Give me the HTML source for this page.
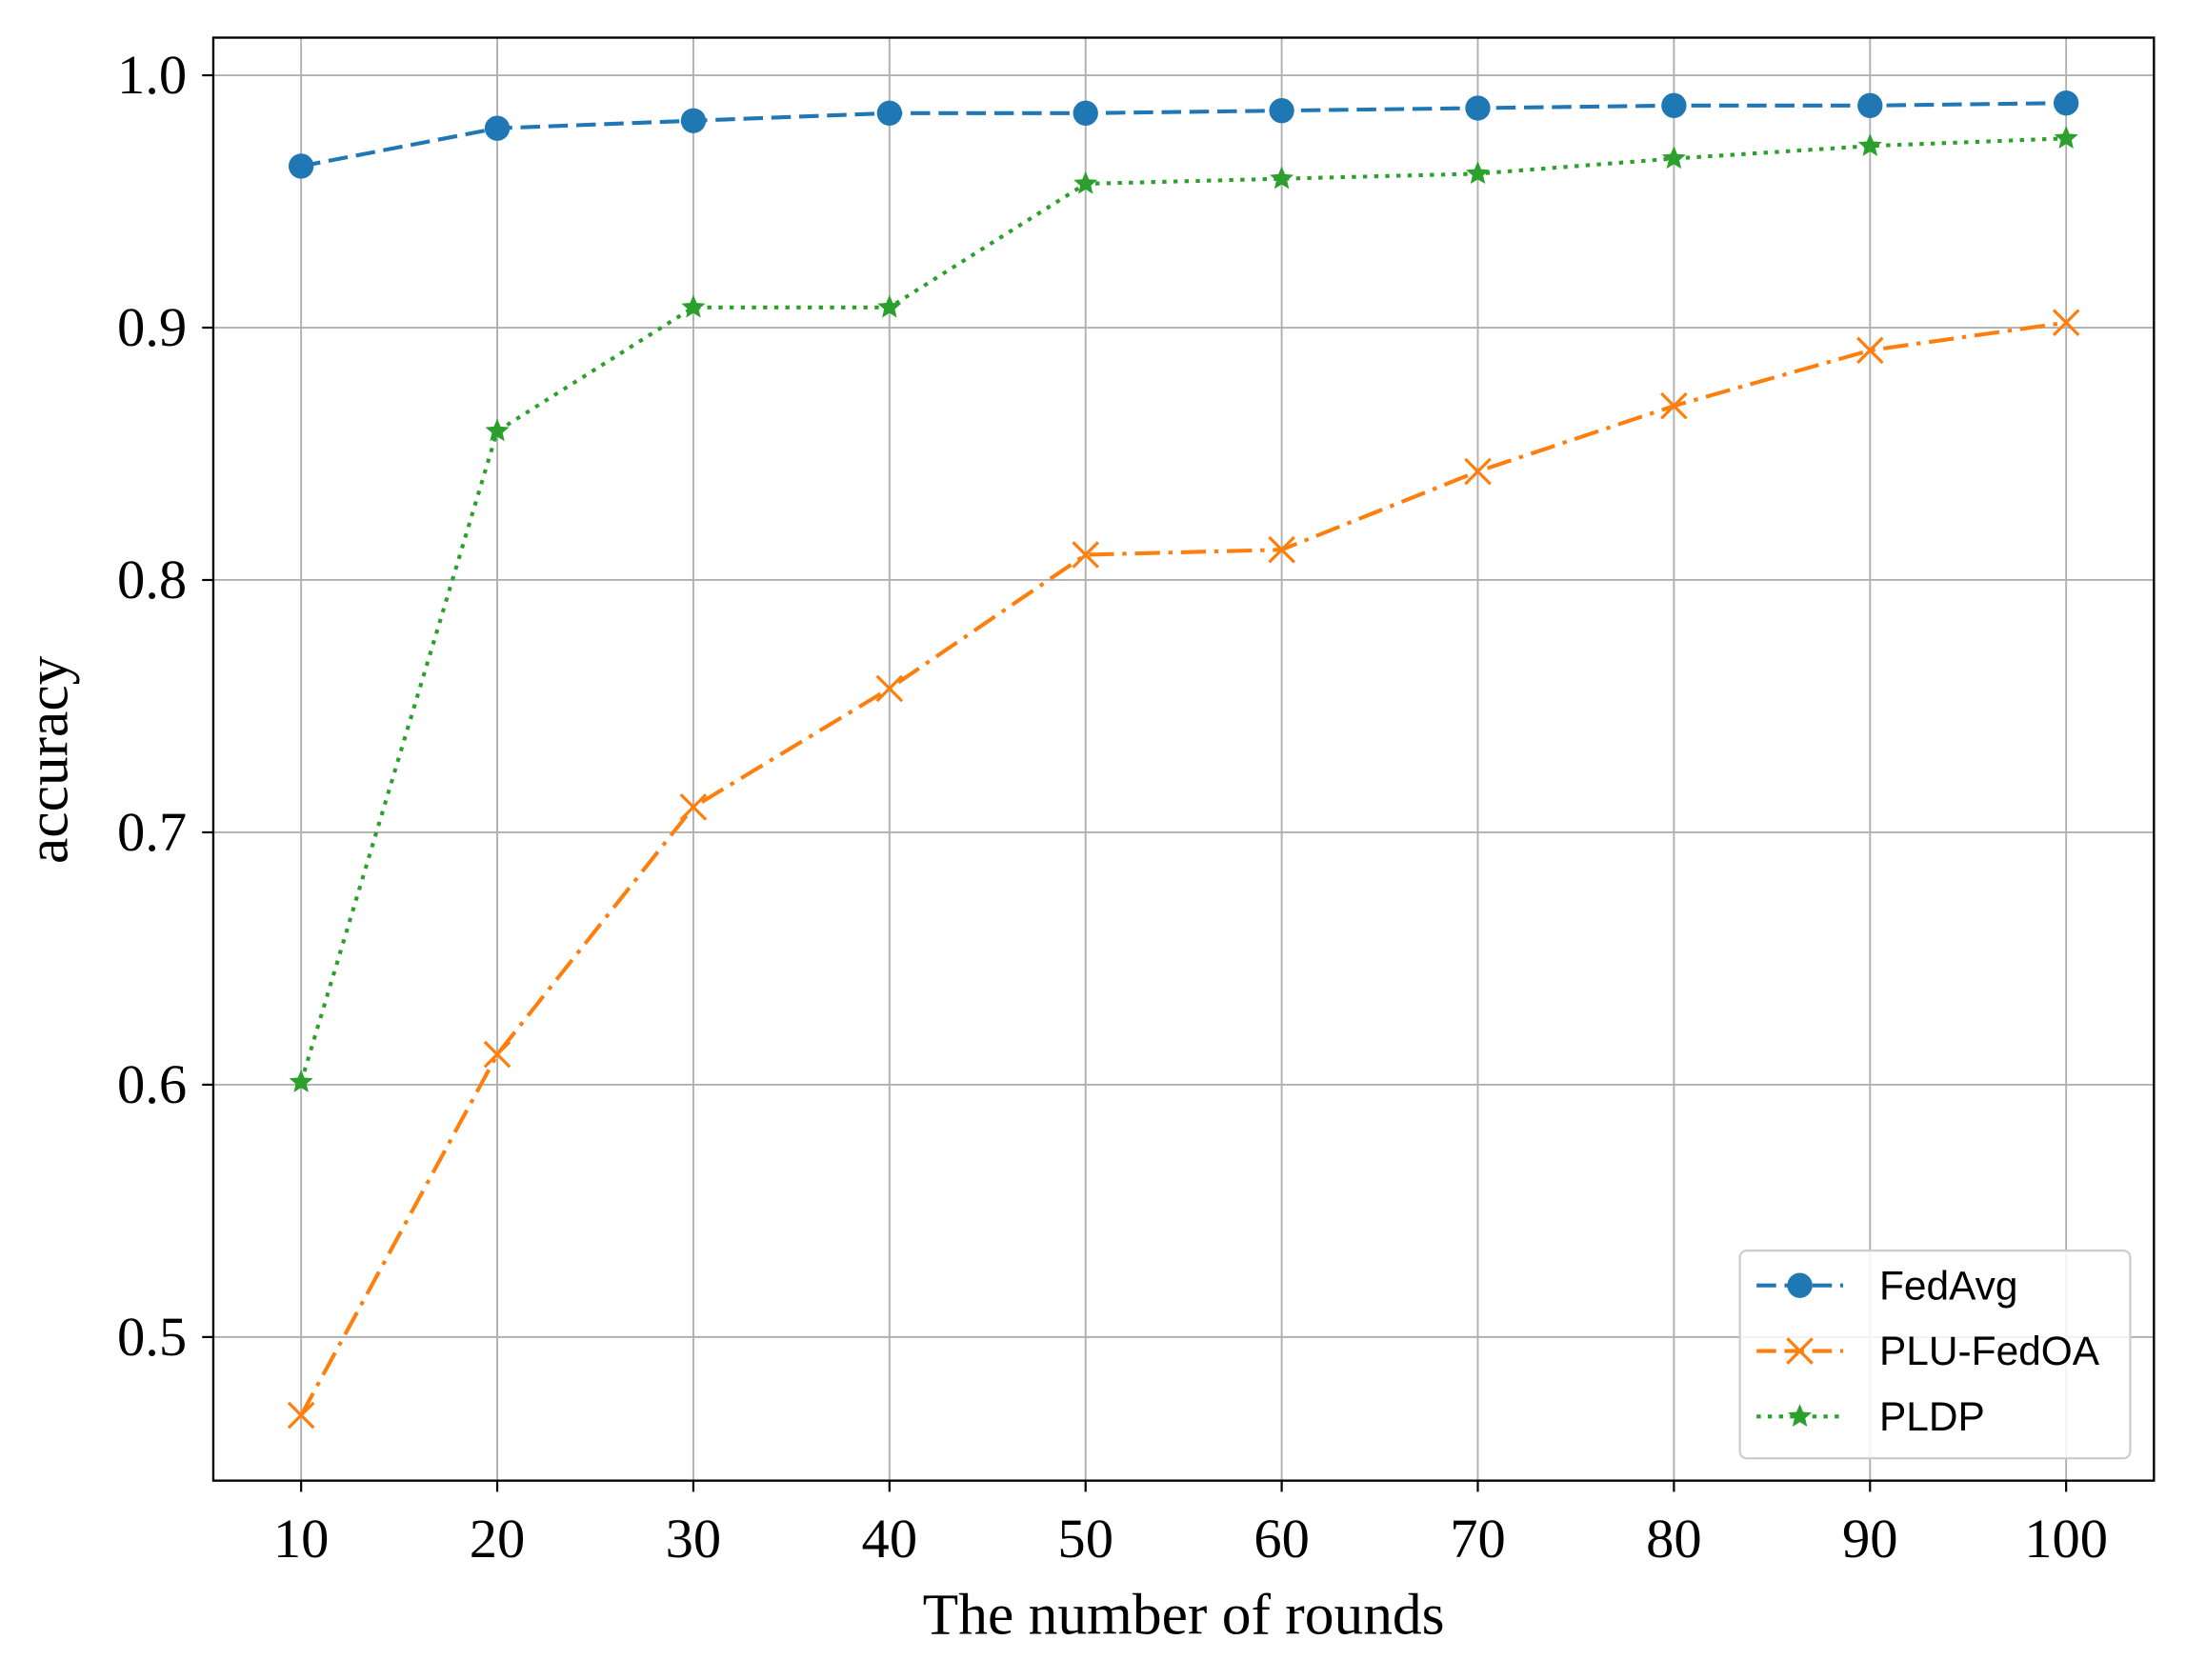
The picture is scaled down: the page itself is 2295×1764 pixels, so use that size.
<!DOCTYPE html>
<html><head><meta charset="utf-8"><style>
html,body{margin:0;padding:0;background:#fff;}
svg{display:block;}
</style></head><body>
<svg id="c" width="2295" height="1764" viewBox="0 0 1568 1205" preserveAspectRatio="none" xmlns="http://www.w3.org/2000/svg">
<rect width="1568" height="1205" fill="#fff"/>
<g id="grid"></g>
<g id="series"></g>
<rect x="153" y="27" width="1392" height="1035" fill="none" stroke="#000" stroke-width="1.6"/>
<g id="ticks" font-family="Liberation Serif, serif" font-size="40" fill="#000"></g>
<text x="849" y="1172" text-anchor="middle" font-family="Liberation Serif, serif" font-size="42">The number of rounds</text>
<text transform="translate(48,545) rotate(-90)" text-anchor="middle" font-family="Liberation Serif, serif" font-size="42">accuracy</text>
<g id="legend" font-family="Liberation Sans, sans-serif" font-size="29"></g>
</svg>
<script>
const ns="http://www.w3.org/2000/svg";
function el(p,t,a,txt){const e=document.createElementNS(ns,t);for(const k in a)e.setAttribute(k,a[k]);if(txt!==undefined)e.textContent=txt;document.getElementById(p).appendChild(e);return e;}
const X=r=>216+(r-10)/10*140.67, Y=v=>54+(1-v)*1810;
for(let r=10;r<=100;r+=10){el('grid','line',{x1:X(r),x2:X(r),y1:27,y2:1062,stroke:'#b0b0b0','stroke-width':1.3});
el('grid','line',{x1:X(r),x2:X(r),y1:1062,y2:1070,stroke:'#000','stroke-width':1.5});
el('ticks','text',{x:X(r),y:1117,'text-anchor':'middle'},String(r));}
for(let i=5;i<=10;i++){const v=i/10;el('grid','line',{x1:153,x2:1545,y1:Y(v),y2:Y(v),stroke:'#b0b0b0','stroke-width':1.3});
el('grid','line',{x1:145,x2:153,y1:Y(v),y2:Y(v),stroke:'#000','stroke-width':1.5});
el('ticks','text',{x:134,y:Y(v)+13,'text-anchor':'end'},v.toFixed(1));}
const rs=[10,20,30,40,50,60,70,80,90,100];
const fed=[0.964,0.979,0.982,0.985,0.985,0.986,0.987,0.988,0.988,0.989];
const plu=[0.469,0.612,0.710,0.757,0.810,0.812,0.843,0.869,0.891,0.902];
const pldp=[0.601,0.859,0.908,0.908,0.957,0.959,0.961,0.967,0.972,0.975];
function pts(d){return d.map((v,i)=>X(rs[i])+','+Y(v)).join(' ');}
function star(cx,cy,R,col,par){let p=[];for(let k=0;k<10;k++){const r=k%2?R*0.45:R;const a=-Math.PI/2+k*Math.PI/5;p.push((cx+r*Math.cos(a))+','+(cy+r*Math.sin(a)));}el(par,'polygon',{points:p.join(' '),fill:col});}
function cross(cx,cy,s,col,par){el(par,'path',{d:`M${cx-s},${cy-s}L${cx+s},${cy+s}M${cx-s},${cy+s}L${cx+s},${cy-s}`,stroke:col,'stroke-width':2.2,fill:'none'});}
el('series','polyline',{points:pts(pldp),fill:'none',stroke:'#2ca02c','stroke-width':2.8,'stroke-dasharray':'3,5'});
el('series','polyline',{points:pts(plu),fill:'none',stroke:'#ff7f0e','stroke-width':2.8,'stroke-dasharray':'18,6,3,6'});
el('series','polyline',{points:pts(fed),fill:'none',stroke:'#1f77b4','stroke-width':2.8,'stroke-dasharray':'14,6'});
rs.forEach((r,i)=>{el('series','circle',{cx:X(r),cy:Y(fed[i]),r:9,fill:'#1f77b4'});cross(X(r),Y(plu[i]),9,'#ff7f0e','series');star(X(r),Y(pldp[i]),9,'#2ca02c','series');});
el('legend','rect',{x:1248,y:897,width:280,height:149,rx:5,fill:'#fff','fill-opacity':0.85,stroke:'#ccc','stroke-width':1.5});
const L=[[922,'#1f77b4','14,6','FedAvg'],[969,'#ff7f0e','14,6','PLU-FedOA'],[1016,'#2ca02c','3,5','PLDP']];
L.forEach(([y,c,d,t],i)=>{el('legend','line',{x1:1260,x2:1322,y1:y,y2:y,stroke:c,'stroke-width':2.8,'stroke-dasharray':d});
if(i==0)el('legend','circle',{cx:1291,cy:y,r:9,fill:c});if(i==1)cross(1291,y,9,c,'legend');if(i==2)star(1291,y,9,c,'legend');
el('legend','text',{x:1348,y:y+10},t);});
</script>
</body></html>
